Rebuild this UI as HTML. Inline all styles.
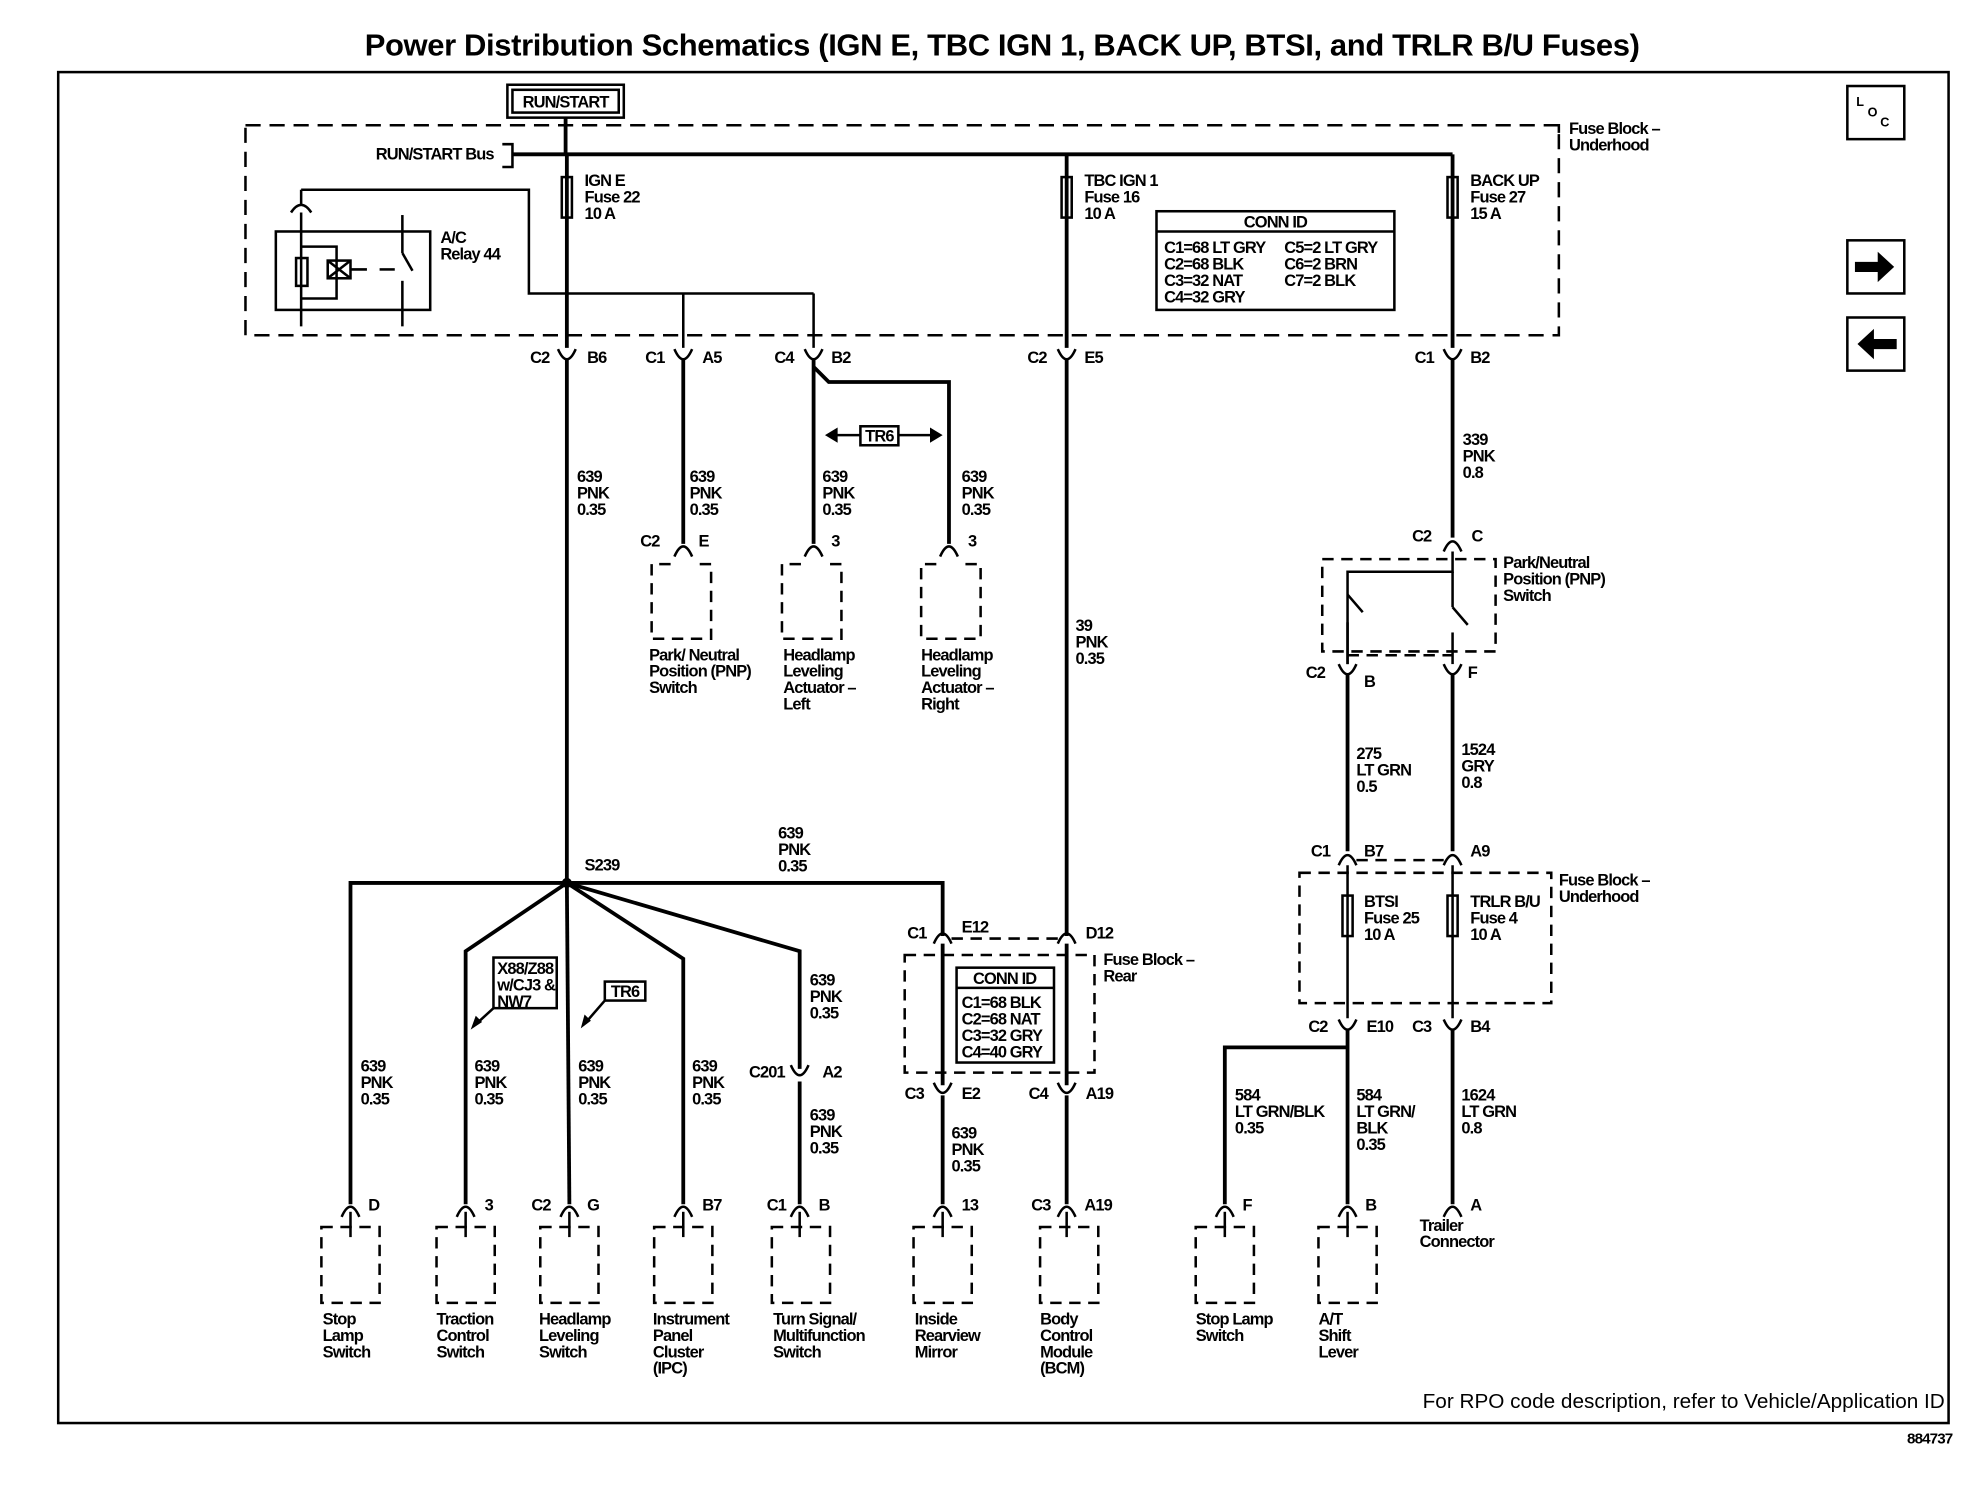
<!DOCTYPE html>
<html><head><meta charset="utf-8"><style>
html,body{margin:0;padding:0;background:#fff}
svg{display:block}
text{font-family:"Liberation Sans",Arial,sans-serif;font-size:13px;font-weight:bold;fill:#000;letter-spacing:-0.7px}
.t{font-size:24.5px;letter-spacing:-0.3px}
.s{fill:none;stroke:#000;stroke-width:2}
.w{fill:none;stroke:#000;stroke-width:3}
.d{fill:none;stroke:#000;stroke-width:2;stroke-dasharray:12 7}
.ds{fill:none;stroke:#000;stroke-width:2;stroke-dasharray:9 6}
</style></head><body>
<svg width="1984" height="1504" viewBox="0 0 1568 1189" preserveAspectRatio="none" xmlns="http://www.w3.org/2000/svg">
<text class="t" x="792" y="44" text-anchor="middle">Power Distribution Schematics (IGN E, TBC IGN 1, BACK UP, BTSI, and TRLR B/U Fuses)</text>
<rect x="46" y="57" width="1494" height="1068" class="s"/>
<text x="1543" y="1141" text-anchor="end" style="font-size:12px">884737</text>
<text x="1537" y="1113" text-anchor="end" style="font-size:16.4px;font-weight:normal;letter-spacing:0">For RPO code description, refer to Vehicle/Application ID</text>

<rect x="1460" y="68" width="45" height="42" class="s"/>
<text x="1467" y="84" style="font-size:10px">L</text><text x="1476" y="92" style="font-size:10px">O</text><text x="1486" y="100" style="font-size:10px">C</text>
<rect x="1460" y="190" width="45" height="42" class="s"/>
<path d="M1466 207h18v-8l13 12-13 12v-8h-18z" fill="#000"/>
<rect x="1460" y="251" width="45" height="42" class="s"/>
<path d="M1499 268h-18v-8l-13 12 13 12v-8h18z" fill="#000"/>

<rect x="401" y="67" width="92" height="26" class="s"/>
<rect x="405" y="71" width="84" height="18" class="s"/>
<text x="447" y="85" text-anchor="middle">RUN/START</text>
<line x1="447" y1="93" x2="447" y2="122" class="w"/>

<path d="M194 99H1232V265H194Z" class="d"/>
<path d="M1226 99h6v6" class="s"/>
<text x="1240" y="106">Fuse Block –</text><text x="1240" y="119">Underhood</text>
<text x="297" y="126">RUN/START Bus</text>
<path d="M397 114h8v18h-8" class="s"/>
<line x1="405" y1="122" x2="1148" y2="122" class="w"/>

<line x1="448" y1="122" x2="448" y2="275" class="w"/>
<rect x="444" y="140" width="8" height="32" fill="#fff" class="s"/>
<text x="462" y="147">IGN E</text><text x="462" y="160">Fuse 22</text><text x="462" y="173">10 A</text>
<line x1="843" y1="122" x2="843" y2="275" class="w"/>
<rect x="839" y="140" width="8" height="32" fill="#fff" class="s"/>
<text x="857" y="147">TBC IGN 1</text><text x="857" y="160">Fuse 16</text><text x="857" y="173">10 A</text>
<line x1="1148" y1="122" x2="1148" y2="275" class="w"/>
<rect x="1144" y="140" width="8" height="32" fill="#fff" class="s"/>
<text x="1162" y="147">BACK UP</text><text x="1162" y="160">Fuse 27</text><text x="1162" y="173">15 A</text>

<rect x="914" y="167" width="188" height="78" class="s"/>
<line x1="914" y1="183" x2="1102" y2="183" class="s"/>
<text x="1008" y="180" text-anchor="middle">CONN ID</text>
<text x="920" y="200">C1=68 LT GRY</text><text x="1015" y="200">C5=2 LT GRY</text>
<text x="920" y="213">C2=68 BLK</text><text x="1015" y="213">C6=2 BRN</text>
<text x="920" y="226">C3=32 NAT</text><text x="1015" y="226">C7=2 BLK</text>
<text x="920" y="239">C4=32 GRY</text>

<rect x="218" y="183" width="122" height="62" class="s"/>
<path d="M230 168 Q238 156 246 168" class="s"/>
<line x1="238" y1="162" x2="238" y2="150" class="s"/>
<path d="M238 150H418V232H643" class="s"/>
<line x1="540" y1="232" x2="540" y2="275" class="s"/>
<line x1="643" y1="232" x2="643" y2="275" class="s"/>
<line x1="238" y1="168" x2="238" y2="258" class="s"/>
<rect x="234" y="204" width="9" height="22" fill="#fff" class="s"/>
<path d="M238 195H266V236H238" class="s"/>
<rect x="259" y="206" width="18" height="14" fill="#fff" class="s"/>
<path d="M259 206l18 14M277 206l-18 14" class="s"/>
<line x1="277" y1="213" x2="290" y2="213" class="s"/>
<line x1="318" y1="170" x2="318" y2="200" class="s"/>
<line x1="318" y1="200" x2="326" y2="214" class="s"/>
<line x1="318" y1="222" x2="318" y2="258" class="s"/>
<line x1="300" y1="213" x2="312" y2="213" class="s"/>
<text x="348" y="192">A/C</text><text x="348" y="205">Relay 44</text>

<g class="s">
<path d="M441 276Q448 292 455 276"/><path d="M533 276Q540 292 547 276"/><path d="M636 276Q643 292 650 276"/><path d="M836 276Q843 292 850 276"/><path d="M1141 276Q1148 292 1155 276"/>
</g>
<text x="419" y="287">C2</text><text x="464" y="287">B6</text>
<text x="510" y="287">C1</text><text x="555" y="287">A5</text>
<text x="612" y="287">C4</text><text x="657" y="287">B2</text>
<text x="812" y="287">C2</text><text x="857" y="287">E5</text>
<text x="1118" y="287">C1</text><text x="1162" y="287">B2</text>

<line x1="448" y1="284" x2="448" y2="698" class="w"/>
<line x1="540" y1="284" x2="540" y2="430" class="w"/>
<line x1="643" y1="284" x2="643" y2="430" class="w"/>
<path d="M643 290 L655 302 H750 V430" class="w"/>
<line x1="843" y1="284" x2="843" y2="740" class="w"/>
<line x1="1148" y1="284" x2="1148" y2="425" class="w"/>

<rect x="680" y="337" width="30" height="15" class="s"/>
<text x="695" y="349" text-anchor="middle">TR6</text>
<line x1="660" y1="344" x2="680" y2="344" class="s"/><line x1="710" y1="344" x2="735" y2="344" class="s"/>
<path d="M652 344l10-6v12z M745 344l-10-6v12z" fill="#000"/>

<text x="456" y="381">639</text><text x="456" y="394">PNK</text><text x="456" y="407">0.35</text>
<text x="545" y="381">639</text><text x="545" y="394">PNK</text><text x="545" y="407">0.35</text>
<text x="650" y="381">639</text><text x="650" y="394">PNK</text><text x="650" y="407">0.35</text>
<text x="760" y="381">639</text><text x="760" y="394">PNK</text><text x="760" y="407">0.35</text>

<g class="s">
<path d="M533 440Q540 424 547 440"/><path d="M636 440Q643 424 650 440"/><path d="M743 440Q750 424 757 440"/>
</g>
<text x="506" y="432">C2</text><text x="552" y="432">E</text><text x="657" y="432">3</text><text x="765" y="432">3</text>
<path d="M530 446h-15v59h47v-59h-15" class="ds"/>
<path d="M633 446h-15v59h47v-59h-15" class="ds"/>
<path d="M740 446h-12v59h47v-59h-15" class="ds"/>
<text x="513" y="522">Park/ Neutral</text><text x="513" y="535">Position (PNP)</text><text x="513" y="548">Switch</text>
<text x="619" y="522">Headlamp</text><text x="619" y="535">Leveling</text><text x="619" y="548">Actuator –</text><text x="619" y="561">Left</text>
<text x="728" y="522">Headlamp</text><text x="728" y="535">Leveling</text><text x="728" y="548">Actuator –</text><text x="728" y="561">Right</text>

<text x="850" y="499">39</text><text x="850" y="512">PNK</text><text x="850" y="525">0.35</text>

<text x="1156" y="352">339</text><text x="1156" y="365">PNK</text><text x="1156" y="378">0.8</text>
<path d="M1141 436Q1148 420 1155 436" class="s"/>
<text x="1116" y="428">C2</text><text x="1163" y="428">C</text>
<path d="M1045 442H1182V515H1045Z" class="ds"/>
<text x="1188" y="449">Park/Neutral</text><text x="1188" y="462">Position (PNP)</text><text x="1188" y="475">Switch</text>
<path d="M1148 436V452H1065V525" class="s"/>
<line x1="1148" y1="452" x2="1148" y2="480" class="s"/>
<path d="M1148 480l12 14M1065 470l12 14" class="s"/>
<line x1="1148" y1="500" x2="1148" y2="525" class="s"/>
<line x1="1065" y1="492" x2="1065" y2="525" class="s"/>
<line x1="1065" y1="518" x2="1148" y2="518" class="ds"/>
<g class="s"><path d="M1058 525Q1065 541 1072 525"/><path d="M1141 525Q1148 541 1155 525"/></g>
<text x="1032" y="536">C2</text><text x="1078" y="543">B</text><text x="1160" y="536">F</text>
<line x1="1065" y1="533" x2="1065" y2="673" class="w"/>
<line x1="1148" y1="533" x2="1148" y2="673" class="w"/>
<text x="1072" y="600">275</text><text x="1072" y="613">LT GRN</text><text x="1072" y="626">0.5</text>
<text x="1155" y="597">1524</text><text x="1155" y="610">GRY</text><text x="1155" y="623">0.8</text>
<g class="s"><path d="M1058 684Q1065 668 1072 684"/><path d="M1141 684Q1148 668 1155 684"/></g>
<text x="1036" y="677">C1</text><text x="1078" y="677">B7</text><text x="1162" y="677">A9</text>
<line x1="1072" y1="680" x2="1141" y2="680" class="ds"/>
<path d="M1027 690H1226V793H1027Z" class="ds"/>
<text x="1232" y="700">Fuse Block –</text><text x="1232" y="713">Underhood</text>
<line x1="1065" y1="684" x2="1065" y2="805" class="s"/>
<line x1="1148" y1="684" x2="1148" y2="805" class="s"/>
<rect x="1061" y="708" width="8" height="32" fill="#fff" class="s"/>
<rect x="1144" y="708" width="8" height="32" fill="#fff" class="s"/>
<text x="1078" y="717">BTSI</text><text x="1078" y="730">Fuse 25</text><text x="1078" y="743">10 A</text>
<text x="1162" y="717">TRLR B/U</text><text x="1162" y="730">Fuse 4</text><text x="1162" y="743">10 A</text>
<g class="s"><path d="M1058 806Q1065 822 1072 806"/><path d="M1141 806Q1148 822 1155 806"/></g>
<text x="1034" y="816">C2</text><text x="1080" y="816">E10</text><text x="1116" y="816">C3</text><text x="1162" y="816">B4</text>
<line x1="1065" y1="814" x2="1065" y2="952" class="w"/>
<line x1="1148" y1="814" x2="1148" y2="952" class="w"/>
<path d="M1065 828H968V952" class="w"/>
<text x="976" y="870">584</text><text x="976" y="883">LT GRN/BLK</text><text x="976" y="896">0.35</text>
<text x="1072" y="870">584</text><text x="1072" y="883">LT GRN/</text><text x="1072" y="896">BLK</text><text x="1072" y="909">0.35</text>
<text x="1155" y="870">1624</text><text x="1155" y="883">LT GRN</text><text x="1155" y="896">0.8</text>

<circle cx="448" cy="698" r="4" fill="#000"/>
<text x="462" y="688">S239</text>
<text x="615" y="663">639</text><text x="615" y="676">PNK</text><text x="615" y="689">0.35</text>
<path d="M277 952V698H745V740" class="w"/>
<path d="M448 698L368 752V952" class="w"/>
<line x1="448" y1="698" x2="450" y2="952" class="w"/>
<path d="M448 698L540 758V952" class="w"/>
<path d="M448 698L632 752V845" class="w"/>
<line x1="632" y1="855" x2="632" y2="952" class="w"/>
<rect x="390" y="757" width="50" height="40" fill="#fff" class="s"/>
<text x="393" y="770">X88/Z88</text><text x="393" y="783">w/CJ3 &amp;</text><text x="393" y="796">NW7</text>
<line x1="390" y1="797" x2="378" y2="808" class="s"/><path d="M372 814l4-11 5 5z" fill="#000"/>
<rect x="478" y="776" width="32" height="15" fill="#fff" class="s"/>
<text x="494" y="788" text-anchor="middle">TR6</text>
<line x1="478" y1="791" x2="465" y2="806" class="s"/><path d="M459 813l3-11 5 5z" fill="#000"/>

<text x="640" y="779">639</text><text x="640" y="792">PNK</text><text x="640" y="805">0.35</text>
<path d="M625 842Q632 858 639 842" class="s"/>
<text x="592" y="852">C201</text><text x="650" y="852">A2</text>
<text x="640" y="886">639</text><text x="640" y="899">PNK</text><text x="640" y="912">0.35</text>

<text x="285" y="847">639</text><text x="285" y="860">PNK</text><text x="285" y="873">0.35</text>
<text x="375" y="847">639</text><text x="375" y="860">PNK</text><text x="375" y="873">0.35</text>
<text x="457" y="847">639</text><text x="457" y="860">PNK</text><text x="457" y="873">0.35</text>
<text x="547" y="847">639</text><text x="547" y="860">PNK</text><text x="547" y="873">0.35</text>

<g class="s"><path d="M738 746Q745 730 752 746"/><path d="M836 746Q843 730 850 746"/></g>
<text x="717" y="742">C1</text><text x="760" y="737">E12</text><text x="858" y="742">D12</text>
<line x1="752" y1="742" x2="836" y2="742" class="ds"/>
<path d="M715 755H865V848H715Z" class="ds"/>
<text x="872" y="763">Fuse Block –</text><text x="872" y="776">Rear</text>
<line x1="745" y1="746" x2="745" y2="858" class="w"/>
<line x1="843" y1="746" x2="843" y2="858" class="w"/>
<rect x="756" y="765" width="77" height="75" fill="#fff" class="s"/>
<line x1="756" y1="781" x2="833" y2="781" class="s"/>
<text x="794" y="778" text-anchor="middle">CONN ID</text>
<text x="760" y="797">C1=68 BLK</text><text x="760" y="810">C2=68 NAT</text><text x="760" y="823">C3=32 GRY</text><text x="760" y="836">C4=40 GRY</text>
<g class="s"><path d="M738 856Q745 872 752 856"/><path d="M836 856Q843 872 850 856"/></g>
<text x="715" y="869">C3</text><text x="760" y="869">E2</text><text x="813" y="869">C4</text><text x="858" y="869">A19</text>
<line x1="745" y1="866" x2="745" y2="952" class="w"/>
<line x1="843" y1="866" x2="843" y2="952" class="w"/>
<text x="752" y="900">639</text><text x="752" y="913">PNK</text><text x="752" y="926">0.35</text>

<g class="s">
<path d="M270 962Q277 946 284 962"/><path d="M361 962Q368 946 375 962"/><path d="M443 962Q450 946 457 962"/><path d="M533 962Q540 946 547 962"/><path d="M625 962Q632 946 639 962"/><path d="M738 962Q745 946 752 962"/><path d="M836 962Q843 946 850 962"/><path d="M961 962Q968 946 975 962"/><path d="M1058 962Q1065 946 1072 962"/><path d="M1141 962Q1148 946 1155 962"/>
</g>
<g class="s">
<line x1="277" y1="958" x2="277" y2="978"/><line x1="368" y1="958" x2="368" y2="978"/><line x1="450" y1="958" x2="450" y2="978"/><line x1="540" y1="958" x2="540" y2="978"/><line x1="632" y1="958" x2="632" y2="978"/><line x1="745" y1="958" x2="745" y2="978"/><line x1="843" y1="958" x2="843" y2="978"/><line x1="968" y1="958" x2="968" y2="978"/><line x1="1065" y1="958" x2="1065" y2="978"/>
</g>
<text x="291" y="957">D</text><text x="383" y="957">3</text><text x="420" y="957">C2</text><text x="464" y="957">G</text><text x="555" y="957">B7</text><text x="606" y="957">C1</text><text x="647" y="957">B</text><text x="760" y="957">13</text><text x="815" y="957">C3</text><text x="857" y="957">A19</text><text x="982" y="957">F</text><text x="1079" y="957">B</text><text x="1162" y="957">A</text>
<g class="ds">
<path d="M254 970H300V1030H254Z"/><path d="M345 970H391V1030H345Z"/><path d="M427 970H473V1030H427Z"/><path d="M517 970H563V1030H517Z"/><path d="M610 970H656V1030H610Z"/><path d="M722 970H768V1030H722Z"/><path d="M822 970H868V1030H822Z"/><path d="M945 970H991V1030H945Z"/><path d="M1042 970H1088V1030H1042Z"/>
</g>
<text x="255" y="1047">Stop</text><text x="255" y="1060">Lamp</text><text x="255" y="1073">Switch</text>
<text x="345" y="1047">Traction</text><text x="345" y="1060">Control</text><text x="345" y="1073">Switch</text>
<text x="426" y="1047">Headlamp</text><text x="426" y="1060">Leveling</text><text x="426" y="1073">Switch</text>
<text x="516" y="1047">Instrument</text><text x="516" y="1060">Panel</text><text x="516" y="1073">Cluster</text><text x="516" y="1086">(IPC)</text>
<text x="611" y="1047">Turn Signal/</text><text x="611" y="1060">Multifunction</text><text x="611" y="1073">Switch</text>
<text x="723" y="1047">Inside</text><text x="723" y="1060">Rearview</text><text x="723" y="1073">Mirror</text>
<text x="822" y="1047">Body</text><text x="822" y="1060">Control</text><text x="822" y="1073">Module</text><text x="822" y="1086">(BCM)</text>
<text x="945" y="1047">Stop Lamp</text><text x="945" y="1060">Switch</text>
<text x="1042" y="1047">A/T</text><text x="1042" y="1060">Shift</text><text x="1042" y="1073">Lever</text>
<text x="1122" y="973">Trailer</text><text x="1122" y="986">Connector</text>
</svg>
</body></html>
